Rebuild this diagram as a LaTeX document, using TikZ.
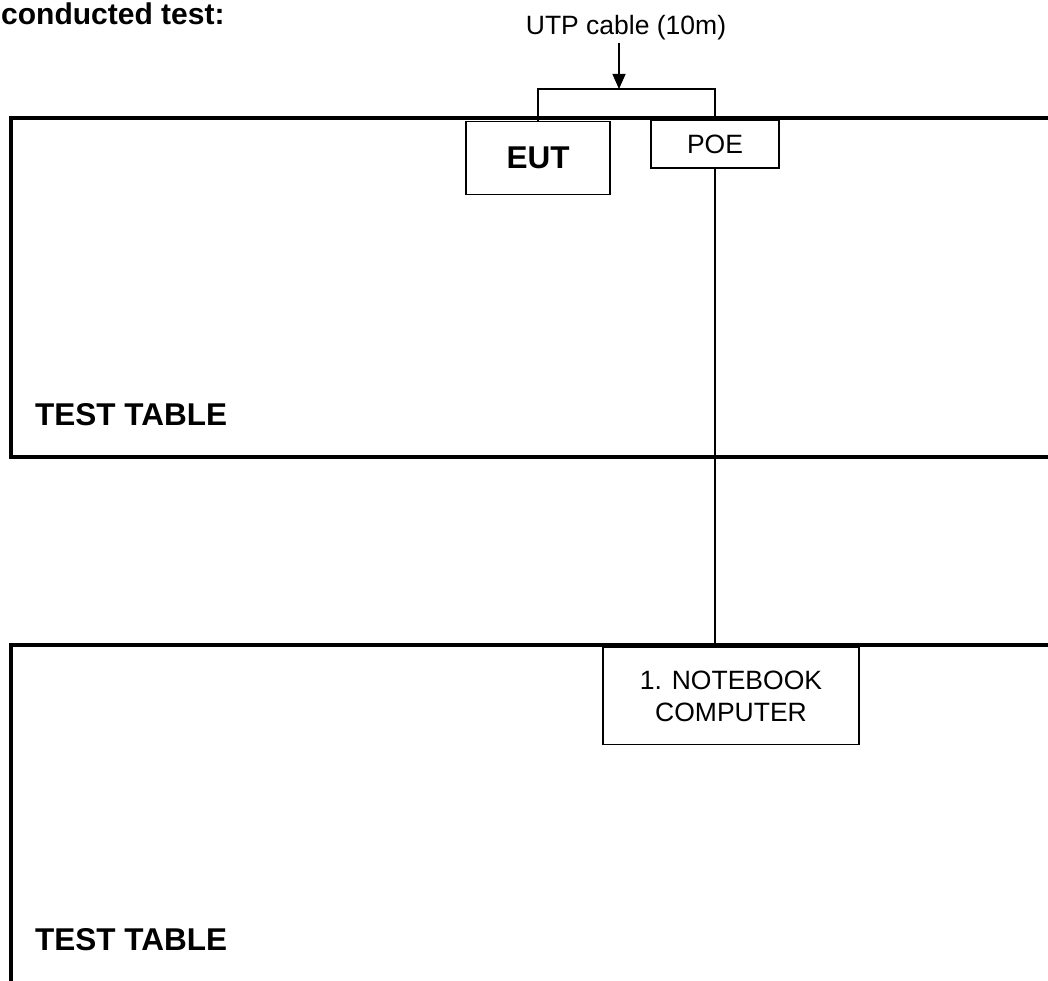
\documentclass[tikz,border=0pt]{standalone}
\usepackage{fontspec}
\setmainfont{Liberation Sans}
\usepackage{tikz}
\usetikzlibrary{arrows.meta}

\begin{document}
\begin{tikzpicture}[x=1pt,y=-1pt,
  table/.style={line width=3.5pt},
  unitbox/.style={draw,line width=1.3pt,inner sep=0pt,align=center},
  cable/.style={line width=1.3pt},
  bigbold/.style={font=\fontsize{31.5}{36}\selectfont\bfseries},
  plain/.style={font=\fontsize{26.5}{32}\selectfont}]
\useasboundingbox (0,0) rectangle (1048,981);
\clip (0,0) rectangle (1048,981);

\node[font=\fontsize{30}{36}\selectfont\bfseries,anchor=base west,inner sep=0pt] (title) at (1,25) {conducted test:};

\draw[table] (11,118) rectangle (1070,457) ;
\node[bigbold,anchor=base west,inner sep=0pt] (toptable) at (35,425) {TEST TABLE};

\draw[table] (11,645) rectangle (1070,1000) ;
\node[bigbold,anchor=base west,inner sep=0pt] (lowtable) at (35,950) {TEST TABLE};

\node[unitbox,bigbold,minimum width=144pt,minimum height=73pt] (eut) at (538,158) {EUT};
\node[unitbox,plain,minimum width=128pt,minimum height=48pt] (poe) at (715,144) {POE};
\node[unitbox,plain,minimum width=256pt,minimum height=97pt] (notebook) at (731,696) {1. NOTEBOOK\\COMPUTER};

\node[plain,anchor=base,inner sep=0pt] (utp) at (626,35) {UTP cable (10m)};
\coordinate (cabletop) at (619,89);
\coordinate (arrowtop) at (619,43);

\draw[cable] (eut.north) |- (cabletop) -| (poe.north);
\draw[cable,-{Triangle[width=13pt,length=15pt]}] (arrowtop) -- (cabletop);
\draw[cable] (poe.south) -- (poe.south |- notebook.north);

\end{tikzpicture}
\end{document}
